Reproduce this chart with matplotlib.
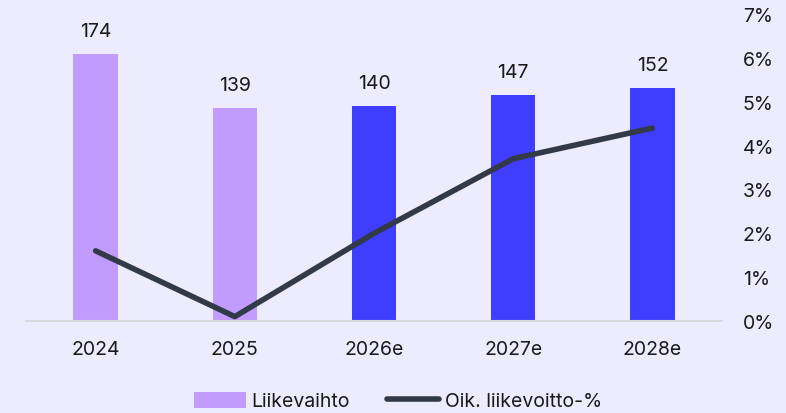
import matplotlib
matplotlib.use("Agg")
import matplotlib.pyplot as plt
from matplotlib.patches import Patch
from matplotlib.lines import Line2D

plt.rcParams['font.family'] = ['Inter', 'DejaVu Sans']

years = ["2024", "2025", "2026e", "2027e", "2028e"]
revenue = [174, 139, 140, 147, 152]
margin_pct = [1.6, 0.1, 2.0, 3.7, 4.4]
pct_ticks = [0, 1, 2, 3, 4, 5, 6, 7]

bg = "#EDEBFE"
actual_color = "#C29BFE"
forecast_color = "#3F3DFE"
line_color = "#333A47"
text_color = "#1A1A1A"

fig = plt.figure(figsize=(7.86, 4.14), dpi=100, facecolor=bg)
ax = fig.add_axes([26 / 786, 1 - 322 / 414, 696 / 786, 307 / 414])
ax.set_facecolor(bg)

x = list(range(len(years)))
bar_colors = [actual_color if not y.endswith("e") else forecast_color for y in years]
ax.bar(x, revenue, width=0.32, color=bar_colors, zorder=2)
for xi, v in zip(x, revenue):
    ax.annotate(str(v), (xi, v), xytext=(0, 10), textcoords="offset points",
                ha="center", va="bottom", fontsize=14, color=text_color)

ax.set_xlim(-0.5, len(years) - 0.5)
ax.set_ylim(0, 200)
ax.set_yticks([])
for s in ["top", "right", "left"]:
    ax.spines[s].set_visible(False)
ax.spines["bottom"].set_color("#D9D8E0")
ax.spines["bottom"].set_linewidth(1.5)
ax.set_xticks(x)
ax.set_xticklabels(years, fontsize=14, color=text_color)
ax.tick_params(axis="x", length=0, pad=14)

ax2 = ax.twinx()
ax2.plot(x, margin_pct, color=line_color, lw=4, solid_capstyle="round",
         solid_joinstyle="round", zorder=3)
ax2.set_ylim(0, 7)
ax2.set_yticks(pct_ticks)
ax2.set_yticklabels([f"{t}%" for t in pct_ticks], fontsize=14, color=text_color)
ax2.tick_params(axis="y", length=0, pad=15)
for s in ["top", "right", "left", "bottom"]:
    ax2.spines[s].set_visible(False)

handles = [Patch(facecolor=actual_color, edgecolor="none"),
           Line2D([0], [0], color=line_color, lw=4, solid_capstyle="round")]
fig.legend(handles, ["Liikevaihto", "Oik. liikevoitto-%"], loc="center",
           bbox_to_anchor=(398 / 786, 1 - 402 / 414), ncol=2, frameon=False,
           fontsize=14, handlelength=2.65, handleheight=0.9, handletextpad=0.3,
           columnspacing=1.9, labelcolor=text_color)

fig.savefig("out.png", dpi=100, facecolor=bg)
